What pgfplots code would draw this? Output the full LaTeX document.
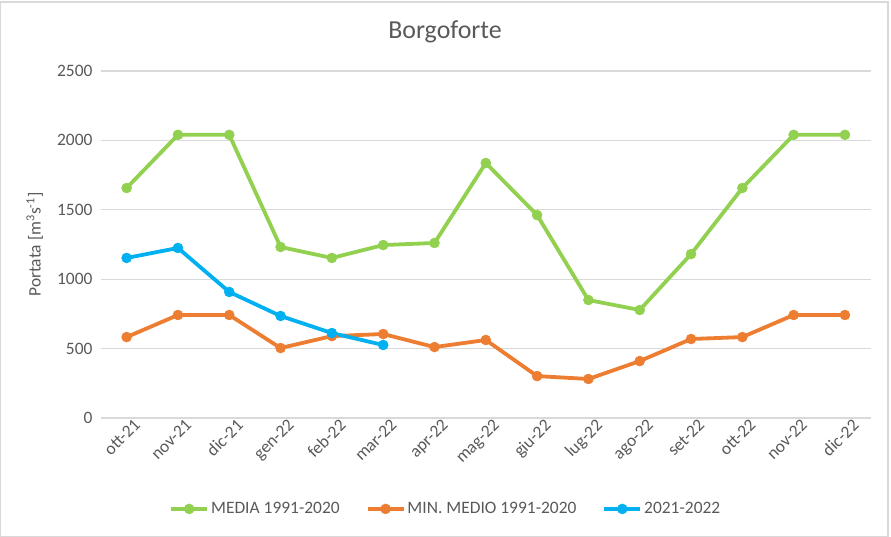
\documentclass[border=0pt]{standalone}
\usepackage{pgfplots}
\pgfplotsset{compat=1.18}
\usepackage{fontspec}
\setmainfont{Carlito}
\definecolor{cgreen}{RGB}{146,208,80}
\definecolor{corange}{RGB}{237,125,49}
\definecolor{cblue}{RGB}{0,176,240}
\definecolor{ctext}{RGB}{89,89,89}
\definecolor{cgrid}{RGB}{217,217,217}
\begin{document}
\begin{tikzpicture}
\useasboundingbox (0,0) rectangle (891bp,537bp);
\draw[cgrid, line width=1.5bp] (0.5bp,0.5bp) rectangle (888bp,535bp);
\begin{axis}[
  at={(101bp,119bp)}, anchor=south west,
  scale only axis, width=769.6bp, height=347bp,
  xmin=-0.5, xmax=14.5, ymin=0, ymax=2500,
  xtick={0,...,14},
  xticklabels={ott-21,nov-21,dic-21,gen-22,feb-22,mar-22,apr-22,mag-22,giu-22,lug-22,ago-22,set-22,ott-22,nov-22,dic-22},
  ytick={0,500,...,2500},
  ymajorgrids, grid style={cgrid, line width=1.2bp},
  axis line style={draw=none},
  major tick length=0pt,
  /pgf/number format/assume math mode=true,
  /pgf/number format/1000 sep={},
  tick label style={font=\fontsize{17.5}{21}\selectfont, text=ctext},
  yticklabel style={xshift=-5bp},
  xticklabel style={rotate=45, anchor=north east, xshift=8bp, yshift=-1bp},
  ylabel={Portata [m\textsuperscript{3}s\textsuperscript{-1}]},
  ylabel style={font=\fontsize{17.5}{21}\selectfont, text=ctext, anchor=center, at={(axis description cs:-0.086,0.5)}},
  legend columns=3,
  legend style={draw=none, fill=none, at={(0.448,-0.262)}, anchor=center,
    font=\fontsize{17.5}{21}\selectfont, text=ctext,
    /tikz/every even column/.append style={column sep=24bp}},
  legend image code/.code={
    \draw[#1, mark repeat=2, mark phase=2] plot coordinates {(0bp,0bp) (18bp,0bp) (36bp,0bp)};
  },
  every axis plot/.append style={line width=3.8bp, line join=round},
]
\addplot[cgreen, mark=*, mark size=5bp, mark options={solid, fill=cgreen, draw=cgreen, line width=0.5bp}] coordinates {
(0,1657) (1,2040) (2,2040) (3,1232) (4,1153) (5,1246) (6,1261) (7,1837) (8,1462) (9,850) (10,778) (11,1181) (12,1657) (13,2040) (14,2040)};
\addlegendentry{MEDIA 1991-2020}
\addplot[corange, mark=*, mark size=5bp, mark options={solid, fill=corange, draw=corange, line width=0.5bp}] coordinates {
(0,583) (1,742) (2,742) (3,504) (4,590) (5,605) (6,511) (7,562) (8,302) (9,281) (10,410) (11,569) (12,583) (13,742) (14,742)};
\addlegendentry{MIN. MEDIO 1991-2020}
\addplot[cblue, mark=*, mark size=5bp, mark options={solid, fill=cblue, draw=cblue, line width=0.5bp}] coordinates {
(0,1153) (1,1225) (2,908) (3,735) (4,612) (5,526)};
\addlegendentry{2021-2022}
\end{axis}
\node[font=\fontsize{26}{31}\selectfont, text=ctext] at (445bp,505bp) {Borgoforte};
\end{tikzpicture}
\end{document}
